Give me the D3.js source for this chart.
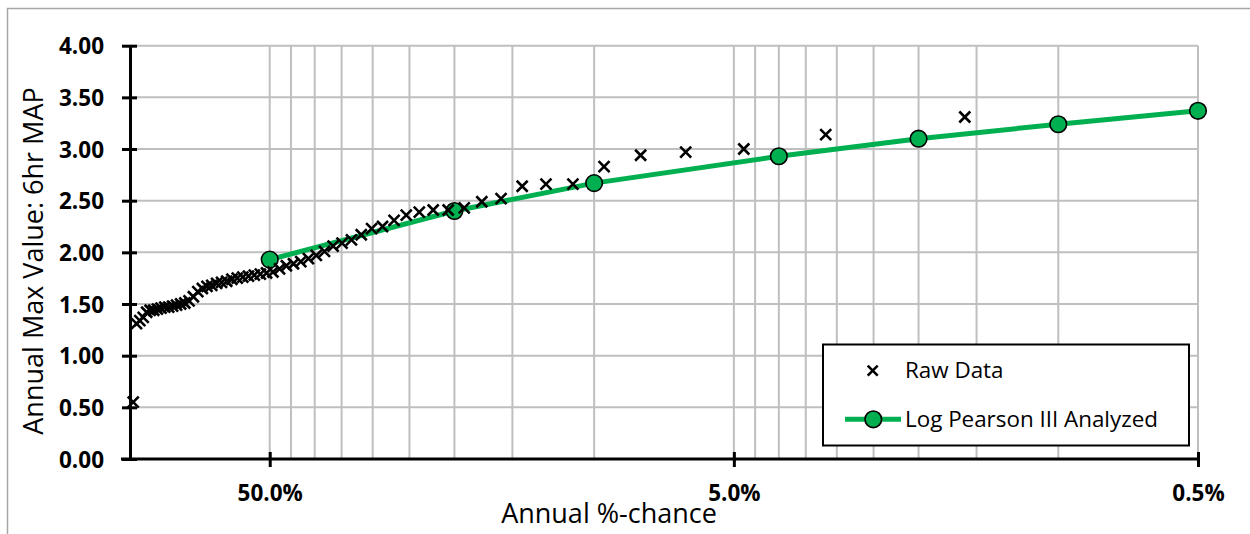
<!DOCTYPE html>
<html>
<head>
<meta charset="utf-8">
<script src="https://cdn.jsdelivr.net/npm/d3@7/dist/d3.min.js"></script>
<style>
  html, body { margin: 0; padding: 0; background: #fff; }
  svg { display: block; font-family: "Open Sans", "Noto Sans", sans-serif; }
</style>
</head>
<body>
<svg id="chart" width="1250" height="534"></svg>
<script>
// Annual exceedance probability (%) of each ranked annual maximum
const rawPct = [
  1.59, 3.17, 4.76, 6.35, 7.94, 9.52, 11.11, 12.70, 14.29, 15.87,
  17.46, 19.05, 20.63, 22.22, 23.81, 25.40, 26.98, 28.57, 30.16, 31.75,
  33.33, 34.92, 36.51, 38.10, 39.68, 41.27, 42.86, 44.44, 46.03, 47.62,
  49.21, 50.79, 52.38, 53.97, 55.56, 57.14, 58.73, 60.32, 61.90, 63.49,
  65.08, 66.67, 68.25, 69.84, 71.43, 73.02, 74.60, 76.19, 77.78, 79.37,
  80.95, 82.54, 84.13, 85.71, 87.30, 88.89, 90.48, 92.06, 93.65, 95.24,
  96.83, 98.41
];
// Ranked annual maximum 6hr MAP values
const rawValue = [
  3.31, 3.14, 3.00, 2.97, 2.94, 2.83, 2.66, 2.66, 2.64, 2.52,
  2.49, 2.43, 2.41, 2.41, 2.39, 2.36, 2.31, 2.25, 2.23, 2.17,
  2.12, 2.09, 2.06, 2.01, 1.97, 1.94, 1.91, 1.89, 1.87, 1.84,
  1.81, 1.80, 1.79, 1.78, 1.77, 1.76, 1.75, 1.74, 1.72, 1.71,
  1.70, 1.68, 1.67, 1.65, 1.62, 1.57, 1.53, 1.51, 1.50, 1.49,
  1.48, 1.47, 1.47, 1.46, 1.45, 1.44, 1.44, 1.42, 1.37, 1.34,
  1.31, 0.55
];
// Log Pearson III frequency curve
const lp3Pct = [50, 20, 10, 4, 2, 1, 0.5];
const lp3Value = [1.93, 2.40, 2.67, 2.93, 3.10, 3.24, 3.37];

// Axis ticks and grid
const yTickValues = [0, 0.5, 1, 1.5, 2, 2.5, 3, 3.5, 4];
const xTickPct = [50, 5, 0.5];
const xGridPct = [50, 45, 40, 35, 30, 25, 20, 15, 10, 5, 4.5, 4, 3.5, 3, 2.5, 2, 1.5, 1, 0.5];

const seriesNames = ["Raw Data", "Log Pearson III Analyzed"];
const xTitle = "Annual %-chance";
const yTitle = "Annual Max Value: 6hr MAP";

const GREEN = "#00B050";
const GRID = "#BFBFBF";

const svg = d3.select("#chart");

// chart area frame
svg.append("path")
  .attr("d", "M7.5,540 L7.5,8.5 L1260,8.5")
  .attr("fill", "none")
  .attr("stroke", "#A6A6A6")
  .attr("stroke-width", 1.5);

const plot = { left: 130, right: 1198, top: 45.7, bottom: 459 };

const x = d3.scaleLog().domain([100, 0.5]).range([plot.left, plot.right]);
const y = d3.scaleLinear().domain([0, 4]).range([plot.bottom, plot.top]);

// gridlines
const grid = svg.append("g");
grid.selectAll("line.h").data(yTickValues.filter(v => v > 0)).join("line")
  .attr("x1", plot.left).attr("x2", plot.right)
  .attr("y1", d => y(d)).attr("y2", d => y(d))
  .attr("stroke", GRID).attr("stroke-width", 2);
grid.selectAll("line.v").data(xGridPct).join("line")
  .attr("x1", d => x(d)).attr("x2", d => x(d))
  .attr("y1", plot.top).attr("y2", plot.bottom)
  .attr("stroke", GRID).attr("stroke-width", 2);

// y axis
const yAxis = d3.axisLeft(y).tickValues(yTickValues)
  .tickFormat(d3.format(".2f")).tickSizeInner(8).tickSizeOuter(0).tickPadding(18);
const yG = svg.append("g").attr("transform", `translate(${plot.left},0)`).call(yAxis);
yG.select(".domain").attr("stroke", "#000").attr("stroke-width", 3);
yG.selectAll(".tick line").attr("stroke", "#000").attr("stroke-width", 3)
  .attr("x1", -8).attr("x2", 7);
yG.selectAll(".tick text")
  .attr("font-family", "'Open Sans', sans-serif")
  .attr("font-size", 22.5).attr("font-weight", "bold").attr("fill", "#000")
  .attr("x", -26).attr("dy", "0.36em");

// x axis
const xAxis = d3.axisBottom(x).tickValues(xTickPct)
  .tickFormat(d => d.toFixed(1) + "%").tickSizeInner(8).tickSizeOuter(0).tickPadding(26);
const xG = svg.append("g").attr("transform", `translate(0,${plot.bottom})`).call(xAxis);
xG.select(".domain").attr("stroke", "#000").attr("stroke-width", 3)
  .attr("d", `M${plot.left - 9},0H${plot.right}`);
xG.selectAll(".tick line").attr("stroke", "#000").attr("stroke-width", 3)
  .attr("y1", -7).attr("y2", 8);
xG.selectAll(".tick text")
  .attr("font-family", "'Open Sans', sans-serif")
  .attr("font-size", 22.5).attr("font-weight", "bold").attr("fill", "#000")
  .attr("y", 42).attr("dy", 0);

// axis titles
svg.append("text")
  .attr("x", 609).attr("y", 523)
  .attr("text-anchor", "middle")
  .attr("font-size", 27).attr("fill", "#000")
  .text(xTitle);
svg.append("text")
  .attr("transform", "translate(43,261) rotate(-90)")
  .attr("text-anchor", "middle")
  .attr("font-size", 27).attr("fill", "#000")
  .text(yTitle);

// Log Pearson III curve
const lp3 = lp3Pct.map((p, i) => ({ p, v: lp3Value[i] }));
svg.append("path").datum(lp3)
  .attr("d", d3.line().x(d => x(d.p)).y(d => y(d.v)))
  .attr("fill", "none").attr("stroke", GREEN).attr("stroke-width", 5);
svg.append("g").selectAll("circle").data(lp3).join("circle")
  .attr("cx", d => x(d.p)).attr("cy", d => y(d.v)).attr("r", 8.3)
  .attr("fill", GREEN).attr("stroke", "#000").attr("stroke-width", 1.6);

// raw data markers
const cross = s => `M${-s},${-s}L${s},${s}M${-s},${s}L${s},${-s}`;
const raw = rawPct.map((p, i) => ({ p, v: rawValue[i] }));
svg.append("g").selectAll("path").data(raw).join("path")
  .attr("transform", d => `translate(${x(d.p)},${y(d.v)})`)
  .attr("d", cross(5.5))
  .attr("stroke", "#000").attr("stroke-width", 2.6).attr("fill", "none");

// legend
const lg = svg.append("g");
lg.append("rect")
  .attr("x", 823).attr("y", 344.5).attr("width", 366).attr("height", 101)
  .attr("fill", "#fff").attr("stroke", "#000").attr("stroke-width", 2);
lg.append("path")
  .attr("transform", "translate(872.7,370.7)")
  .attr("d", cross(5))
  .attr("stroke", "#000").attr("stroke-width", 2.6).attr("fill", "none");
lg.append("line")
  .attr("x1", 845).attr("x2", 901).attr("y1", 419.3).attr("y2", 419.3)
  .attr("stroke", GREEN).attr("stroke-width", 5);
lg.append("circle")
  .attr("cx", 873.3).attr("cy", 419.3).attr("r", 8.3)
  .attr("fill", GREEN).attr("stroke", "#000").attr("stroke-width", 1.6);
lg.selectAll("text").data(seriesNames).join("text")
  .attr("x", 905).attr("y", (d, i) => i === 0 ? 378 : 427)
  .attr("font-size", 22.4).attr("fill", "#000")
  .text(d => d);
</script>
</body>
</html>
